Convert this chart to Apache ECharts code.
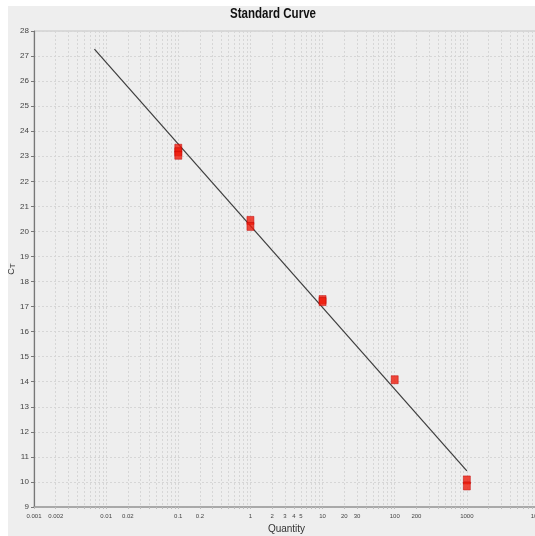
<!DOCTYPE html>
<html>
<head>
<meta charset="utf-8">
<script src="https://cdn.jsdelivr.net/npm/echarts@6/dist/echarts.min.js"></script>
<style>html,body{margin:0;padding:0;background:#fff}#c{width:535px;height:536px}</style>
</head>
<body>
<div id="c"></div>
<script>
// Replicate points (Quantity, CT)
const quantities = [0.1, 0.1, 0.1, 1, 1, 10, 10, 100, 1000, 1000];
const ctValues  = [23.32, 23.18, 23.04, 20.44, 20.2, 17.28, 17.2, 14.08, 10.08, 9.84];
// Standard curve fit line endpoints
const lineQuantities = [0.00688, 1000];
const lineCt = [27.28, 10.44];
// X-axis tick labels
const xTickLabels = ['0.001','0.002','0.01','0.02','0.1','0.2','1','2','3','4','5','10','20','30','100','200','1000','10000'];
// Grid positions (1..9 per decade)
const gridMultipliers = [1,2,3,4,5,6,7,8,9];
const decades = [-3,-2,-1,0,1,2,3];

const gridVals = [];
decades.forEach(d => gridMultipliers.forEach(m => gridVals.push(Math.log10(m * Math.pow(10, d)))));
gridVals.push(4);
const labelVals = xTickLabels.map(s => Math.log10(parseFloat(s)));

const chart = echarts.init(document.getElementById('c'));
const font = 'Liberation Sans, Arial, sans-serif';
chart.setOption({
  backgroundColor: '#ffffff',
  animation: false,
  graphic: [{
    type: 'rect', z: -10, silent: true,
    shape: { x: 8, y: 6, width: 540, height: 540 },
    style: { fill: '#eeeeee' }
  }, {
    type: 'text', x: 273, y: 14, scaleX: 0.77, z: 10,
    style: { text: 'Standard Curve', font: 'bold 15px Liberation Sans, Arial, sans-serif', fill: '#111', align: 'center', verticalAlign: 'middle' }
  }],
  grid: { left: 34, right: -4, top: 31, bottom: 29, outerBoundsMode: 'none', containLabel: false, show: true, borderColor: '#c4c4c4', borderWidth: 1, backgroundColor: 'transparent' },
  xAxis: [{
    type: 'log', logBase: 10, min: 0.001, max: 10000, position: 'bottom',
    axisLine: { show: false }, axisTick: { show: false }, axisLabel: { show: false },
    splitLine: { show: false }, minorSplitLine: { show: false }
  }, {
    type: 'value', min: -3, max: 4, position: 'bottom',
    name: 'Quantity', nameLocation: 'middle', nameGap: 17,
    nameTextStyle: { fontFamily: font, fontSize: 10, color: '#333' },
    axisLine: { show: true, onZero: false, lineStyle: { color: '#999', width: 1.5 } },
    axisTick: { show: true, customValues: gridVals, length: 2, lineStyle: { color: '#bbb' } },
    axisLabel: {
      show: true, customValues: labelVals, fontSize: 6, color: '#444', fontFamily: font, margin: 6,
      formatter: v => {
        let best = xTickLabels[0], bd = 1e9;
        xTickLabels.forEach(s => { const d = Math.abs(Math.log10(parseFloat(s)) - v); if (d < bd) { bd = d; best = s; } });
        return best;
      }
    },
    splitLine: { show: true, lineStyle: { color: '#d6d6d6', type: [2, 2], width: 1 } }
  }],
  yAxis: {
    type: 'value', min: 9, max: 28, interval: 1,
    name: '{c|C}{t|T}', nameLocation: 'middle', nameGap: 17, nameMoveOverlap: false,
    nameTextStyle: { rich: { c: { fontSize: 9, color: '#333', fontFamily: font }, t: { fontSize: 8, color: '#333', fontFamily: font, padding: [3,0,0,0] } } },
    axisLine: { show: true, onZero: false, lineStyle: { color: '#777', width: 1.2 } },
    axisTick: { show: true, length: 3, lineStyle: { color: '#777' } },
    axisLabel: { fontSize: 8, color: '#444', fontFamily: font, margin: 5 },
    splitLine: { show: true, lineStyle: { color: '#d6d6d6', type: [2, 2], width: 1 } }
  },
  series: [{
    type: 'line', xAxisIndex: 0,
    data: lineQuantities.map((q, i) => [q, lineCt[i]]),
    symbol: 'none', lineStyle: { color: '#3c3c3c', width: 1.2 }, z: 3
  }, {
    type: 'scatter', xAxisIndex: 0,
    data: quantities.map((q, i) => [q, ctValues[i]]),
    symbol: 'rect', symbolSize: [7, 8],
    itemStyle: { color: '#ee1a0a', borderColor: '#c00000', borderWidth: 0.6 }, z: 4
  }]
});
</script>
</body>
</html>
